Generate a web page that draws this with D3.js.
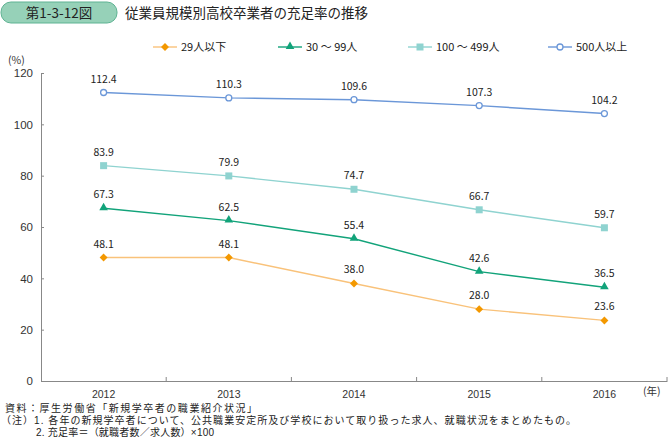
<!DOCTYPE html>
<html><head><meta charset="utf-8">
<script src="https://cdn.jsdelivr.net/npm/d3@7"></script>
<style>
body{margin:0;background:#fff;}
svg{font-family:"Noto Sans CJK JP","Noto Sans",sans-serif;}
</style></head>
<body><svg id="c" width="668" height="438"></svg>
<script>
const years = ["2012","2013","2014","2015","2016"];
const seriesNames = ["29人以下","30 ～ 99人","100 ～ 499人","500人以上"];
const s29 = [48.1,48.1,38.0,28.0,23.6];
const s30 = [67.3,62.5,55.4,42.6,36.5];
const s100 = [83.9,79.9,74.7,66.7,59.7];
const s500 = [112.4,110.3,109.6,107.3,104.2];
const yTicks = [0,20,40,60,80,100,120];
const colors = ["#f39800","#12a37a","#8fd3d0","#6b97d8"];
const lineColors = ["#f9c27a","#12a37a","#8fd3d0","#6b97d8"];
const allSeries = [s29,s30,s100,s500];

const svg = d3.select("#c");
// title
svg.append("rect").attr("x",1).attr("y",2).attr("width",116).attr("height",21).attr("rx",10)
  .attr("fill","#96d1b8").attr("stroke","#5fb393").attr("stroke-width",1);
svg.append("text").attr("x",59).attr("y",17.5).attr("text-anchor","middle")
  .attr("font-size",13.5).attr("fill","#222").text("第1-3-12図");
svg.append("text").attr("x",125).attr("y",17.5).attr("font-size",13.5).attr("fill","#222").text("従業員規模別高校卒業者の充足率の推移");

const x = d3.scaleBand().domain(years).range([41,667]);
const y = d3.scaleLinear().domain([0,120]).range([381,73]);

// axes
const yAxis = d3.axisLeft(y).tickValues(yTicks).tickSize(-3).tickPadding(8);
const gy = svg.append("g").attr("transform","translate(41,0)").call(yAxis);
gy.select(".domain").attr("stroke","#888");
gy.selectAll(".tick line").attr("stroke","#888");
gy.selectAll("text").attr("font-size",11.5).attr("fill","#333");

const xAxis = d3.axisBottom(x).tickSize(0).tickPadding(10);
const gx = svg.append("g").attr("transform","translate(0,381)").call(xAxis);
gx.select(".domain").attr("stroke","#888");
gx.selectAll("text").attr("font-size",10.5).attr("fill","#333");
// band boundary ticks
svg.append("g").selectAll("line").data(years.slice(1).concat(["end"])).join("line")
  .attr("x1",d=>d==="end"?x.range()[1]:x(d)).attr("x2",d=>d==="end"?x.range()[1]:x(d))
  .attr("y1",381).attr("y2",377).attr("stroke","#888");

svg.append("text").attr("x",8).attr("y",64).attr("font-size",10.5).attr("fill","#333").text("(%)");
svg.append("text").attr("x",643).attr("y",395).attr("font-size",10.5).attr("fill","#333").text("(年)");

// lines
const line = d3.line().x((d,i)=>x(years[i])+x.bandwidth()/2).y(d=>y(d));
allSeries.forEach((s,k)=>{
  svg.append("path").datum(s).attr("d",line).attr("fill","none")
    .attr("stroke",lineColors[k]).attr("stroke-width",1.4);
  s.forEach((v,i)=>{
    const cx = x(years[i])+x.bandwidth()/2, cy = y(v);
    drawMarker(svg,k,cx,cy);
    svg.append("text").attr("x",cx).attr("y",cy-10).attr("text-anchor","middle")
      .attr("font-size",10.5).attr("fill","#222").text(v.toFixed(1));
  });
});

function drawMarker(g,k,cx,cy){
  if(k===0){
    g.append("path").attr("d",d3.symbol(d3.symbolDiamond2,40)()).attr("transform",`translate(${cx},${cy})`)
      .attr("fill",colors[0]);
  } else if(k===1){
    g.append("path").attr("d",d3.symbol(d3.symbolTriangle,32)()).attr("transform",`translate(${cx},${cy-0.5})`)
      .attr("fill",colors[1]);
  } else if(k===2){
    g.append("rect").attr("x",cx-3.5).attr("y",cy-3.5).attr("width",7).attr("height",7).attr("fill",colors[2]);
  } else {
    g.append("circle").attr("cx",cx).attr("cy",cy).attr("r",3).attr("fill","#fff")
      .attr("stroke",colors[3]).attr("stroke-width",1.3);
  }
}

// legend
const legX = [153,278,408,548];
seriesNames.forEach((n,k)=>{
  const lx = legX[k], ly = 47;
  svg.append("line").attr("x1",lx).attr("x2",lx+24).attr("y1",ly).attr("y2",ly)
    .attr("stroke",lineColors[k]).attr("stroke-width",1.4);
  drawMarker(svg,k,lx+12,ly);
  svg.append("text").attr("x",lx+28).attr("y",ly+4).attr("font-size",11).attr("fill","#222").text(n);
});

// notes
const notes = ["資料：厚生労働省「新規学卒者の職業紹介状況」",
 "（注）1. 各年の新規学卒者について、公共職業安定所及び学校において取り扱った求人、就職状況をまとめたもの。",
 "2. 充足率＝（就職者数／求人数）×100"];
const noteX = [5,1,36];
const noteW = [252,575,178];
notes.forEach((t,i)=>{
  svg.append("text").attr("x",noteX[i]).attr("y",412+i*11.8)
    .attr("font-family","'Liberation Sans','Noto Sans CJK JP',sans-serif")
    .attr("font-size",10).attr("fill","#222")
    .attr("textLength",noteW[i]).attr("lengthAdjust","spacing").text(t);
});
</script></body></html>
